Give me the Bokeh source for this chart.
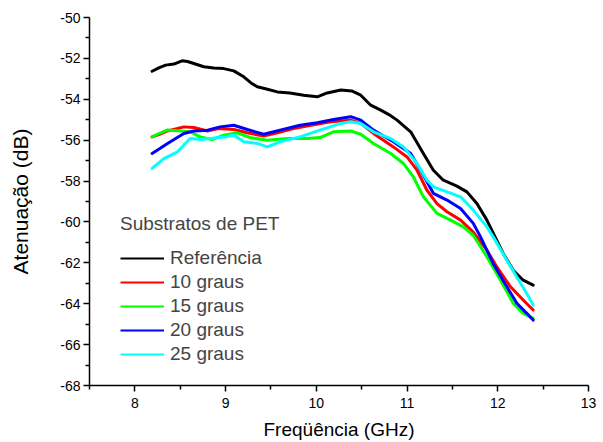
from bokeh.plotting import figure
from bokeh.models import FixedTicker, Legend, LegendItem
from bokeh.embed import file_html
from bokeh.resources import INLINE

# ---- data ----
ref_f = [8.19, 8.27, 8.34, 8.43, 8.52, 8.58, 8.65, 8.76, 8.87, 8.98, 9.09, 9.2, 9.28, 9.35, 9.45,
         9.57, 9.71, 9.86, 10.01, 10.12, 10.27, 10.39, 10.49, 10.6, 10.71, 10.8, 10.89, 11.04, 11.18,
         11.29, 11.4, 11.55, 11.66, 11.77, 11.88, 11.97, 12.06, 12.17, 12.28, 12.39]
ref_v = [-52.63, -52.45, -52.33, -52.28, -52.12, -52.15, -52.25, -52.41, -52.47, -52.5, -52.61, -52.9,
         -53.2, -53.39, -53.5, -53.64, -53.69, -53.8, -53.88, -53.69, -53.55, -53.59, -53.8, -54.29,
         -54.53, -54.75, -55.02, -55.59, -56.65, -57.47, -57.96, -58.25, -58.53, -59.1, -59.91, -60.73,
         -61.54, -62.36, -62.85, -63.09]

g10_f = [8.19, 8.28, 8.36, 8.45, 8.54, 8.65, 8.8, 8.92, 9.09, 9.24, 9.42, 9.57, 9.75, 9.94, 10.16,
         10.38, 10.49, 10.63, 10.85, 11.0, 11.11, 11.22, 11.33, 11.44, 11.59, 11.73, 11.88, 11.99,
         12.14, 12.28, 12.39]
g10_v = [-55.84, -55.7, -55.55, -55.45, -55.35, -55.38, -55.55, -55.43, -55.48, -55.64, -55.8, -55.64,
         -55.43, -55.27, -55.1, -55.02, -55.18, -55.67, -56.33, -56.82, -57.47, -58.45, -59.1, -59.5,
         -59.91, -60.5, -61.38, -62.2, -63.17, -63.82, -64.31]

g15_f = [8.19, 8.28, 8.36, 8.5, 8.61, 8.72, 8.85, 8.98, 9.13, 9.27, 9.46, 9.68, 9.9, 10.04, 10.19,
         10.38, 10.49, 10.63, 10.82, 10.96, 11.07, 11.18, 11.33, 11.48, 11.62, 11.73, 11.88, 12.03,
         12.17, 12.28, 12.39]
g15_v = [-55.84, -55.65, -55.5, -55.55, -55.59, -55.84, -55.97, -55.76, -55.64, -55.87, -56.0, -55.92,
         -55.92, -55.87, -55.59, -55.55, -55.71, -56.16, -56.65, -57.14, -57.8, -58.77, -59.58, -59.91,
         -60.24, -60.65, -61.7, -62.85, -63.98, -64.47, -64.72]

g20_f = [8.19, 8.28, 8.36, 8.45, 8.54, 8.65, 8.8, 8.94, 9.09, 9.24, 9.42, 9.6, 9.82, 10.01, 10.19,
         10.38, 10.49, 10.63, 10.85, 11.04, 11.15, 11.29, 11.44, 11.59, 11.73, 11.81, 11.95, 12.1,
         12.21, 12.32, 12.39]
g20_v = [-56.65, -56.4, -56.16, -55.92, -55.67, -55.55, -55.51, -55.35, -55.27, -55.48, -55.71, -55.51,
         -55.27, -55.15, -54.99, -54.85, -55.02, -55.51, -56.08, -56.65, -57.47, -58.6, -58.93, -59.34,
         -60.07, -60.73, -62.04, -63.17, -63.98, -64.47, -64.8]

g25_f = [8.19, 8.32, 8.47, 8.61, 8.72, 8.83, 8.98, 9.09, 9.2, 9.35, 9.46, 9.6, 9.82, 10.04, 10.27,
         10.38, 10.49, 10.63, 10.82, 10.96, 11.11, 11.22, 11.29, 11.44, 11.59, 11.73, 11.88, 11.95,
         12.1, 12.21, 12.32, 12.39]
g25_v = [-57.38, -56.9, -56.57, -55.92, -55.97, -55.92, -55.84, -55.76, -56.08, -56.16, -56.33, -56.08,
         -55.84, -55.51, -55.18, -55.1, -55.18, -55.59, -55.92, -56.33, -57.14, -57.96, -58.28, -58.53,
         -58.77, -59.42, -60.24, -60.73, -61.87, -62.69, -63.5, -64.07]

series_labels = ["Referência", "10 graus", "15 graus", "20 graus", "25 graus"]
series_colors = ["#000000", "#ff0000", "#00ff00", "#0000ff", "#00ffff"]
series_f = [ref_f, g10_f, g15_f, g20_f, g25_f]
series_v = [ref_v, g10_v, g15_v, g20_v, g25_v]

x_major = [8, 9, 10, 11, 12, 13]
x_minor = [7.5, 8.5, 9.5, 10.5, 11.5, 12.5]
y_major = [-68, -66, -64, -62, -60, -58, -56, -54, -52, -50]
y_minor = [-67, -65, -63, -61, -59, -57, -55, -53, -51]

FONT = "Liberation Sans"

p = figure(width=603, height=442, x_range=(7.5, 13), y_range=(-68, -50),
           output_backend="svg", toolbar_location=None,
           min_border_left=89, min_border_right=15, min_border_top=17, min_border_bottom=57)
p.outline_line_color = None
p.grid.visible = False
p.background_fill_color = "white"
p.border_fill_color = "white"

for f, v, c in zip(series_f, series_v, series_colors):
    p.line(f, v, line_color=c, line_width=3, line_join="round", line_cap="round")

items = []
for lab, c in zip(series_labels, series_colors):
    r = p.line(x=[float("nan")], y=[float("nan")], line_color=c, line_width=2)
    items.append(LegendItem(label=lab, renderers=[r]))

legend = Legend(items=items, title="Substratos de PET", location=(31, 20),
                title_text_font=FONT, title_text_font_size="19px", title_text_font_style="normal",
                title_standoff=12,
                label_text_font=FONT, label_text_font_size="19px",
                glyph_width=44, glyph_height=20, label_height=20, label_standoff=6,
                spacing=2, padding=0, margin=0,
                border_line_alpha=0, background_fill_alpha=0)
p.add_layout(legend, "center")

xa = p.xaxis[0]
xa.ticker = FixedTicker(ticks=x_major, minor_ticks=x_minor)
xa.axis_label = "Freqüência (GHz)"
ya = p.yaxis[0]
ya.ticker = FixedTicker(ticks=y_major, minor_ticks=y_minor)
ya.axis_label = "Atenuação (dB)"
ya.major_label_overrides = {t: "-%d" % abs(t) for t in y_major}

for ax in (xa, ya):
    ax.axis_line_width = 1.5
    ax.major_tick_line_width = 1.5
    ax.minor_tick_line_width = 1.5
    ax.major_tick_out = 6
    ax.major_tick_in = 0
    ax.minor_tick_out = 4
    ax.minor_tick_in = 0
    ax.major_label_text_font = FONT
    ax.major_label_text_font_size = "14px"
    ax.axis_label_text_font = FONT
    ax.axis_label_text_font_style = "normal"
    ax.axis_line_color = "black"
    ax.major_tick_line_color = "black"
    ax.minor_tick_line_color = "black"
    ax.major_label_text_color = "black"
    ax.axis_label_text_color = "black"

xa.major_label_standoff = 6
xa.axis_label_text_font_size = "19px"
xa.axis_label_standoff = 8
ya.major_label_standoff = 3
ya.axis_label_text_font_size = "21px"
ya.axis_label_standoff = 25

open("out.html", "w").write(file_html(p, INLINE))
